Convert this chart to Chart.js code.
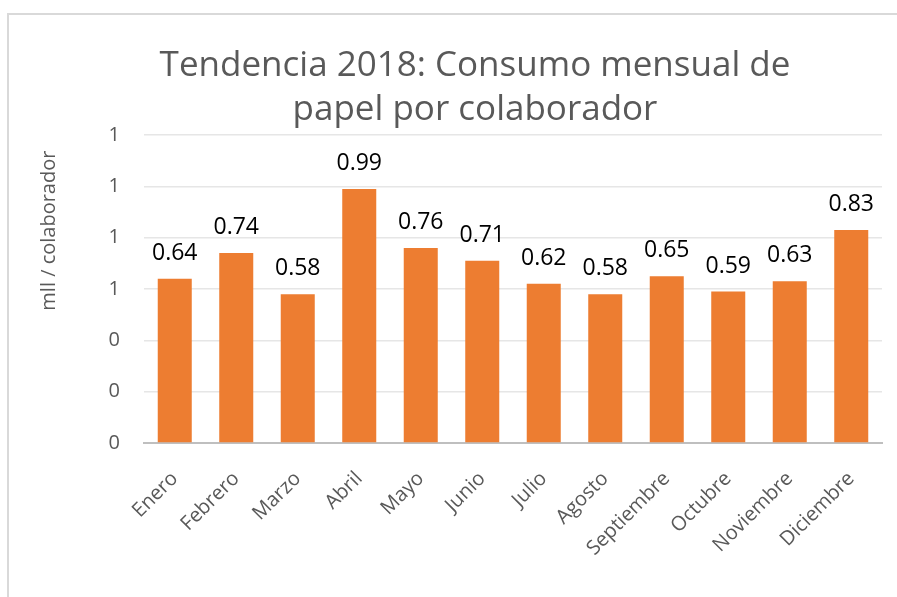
<!DOCTYPE html>
<html>
<head>
<meta charset="utf-8">
<script src="https://cdn.jsdelivr.net/npm/chart.js@4.4.0/dist/chart.umd.min.js"></script>
<style>
  body { margin: 0; background: #fff; }
  #wrap { position: relative; width: 897px; height: 597px; overflow: hidden; }
  #frame { position: absolute; left: 7px; top: 13px; width: 900px; height: 600px; border: 2px solid #d9d9d9; }
  #Plot { position: absolute; left: 0; top: 0; }
</style>
</head>
<body>
<div id="wrap">
  <div id="frame"></div>
  <canvas id="Plot" width="897" height="597"></canvas>
</div>
<script>
var meses = ['Enero','Febrero','Marzo','Abril','Mayo','Junio','Julio','Agosto','Septiembre','Octubre','Noviembre','Diciembre'];
var consumo = [0.64, 0.74, 0.58, 0.99, 0.76, 0.71, 0.62, 0.58, 0.65, 0.59, 0.63, 0.83];
var titulo = ['Tendencia 2018: Consumo mensual de', 'papel por colaborador'];
var ejeY = 'mll / colaborador';

var fuente = '"Open Sans", "Noto Sans", sans-serif';
var gris = '#595959';

/* etiquetas encima de las barras */
var etiquetas = {
  id: 'etiquetas',
  afterDatasetsDraw: function(chart) {
    var c = chart.ctx;
    var meta = chart.getDatasetMeta(0);
    c.save();
    c.font = '23px ' + fuente;
    c.fillStyle = '#000';
    c.textAlign = 'center';
    c.textBaseline = 'alphabetic';
    meta.data.forEach(function(bar, i) {
      c.fillText(consumo[i].toFixed(2), bar.x, bar.y - 19);
    });
    c.restore();
  }
};

var ctx = document.getElementById('Plot').getContext('2d');
var myChart = new Chart(ctx, {
  type: 'bar',
  data: {
    labels: meses,
    datasets: [{
      data: consumo,
      backgroundColor: '#ED7D31',
      categoryPercentage: 1,
      barPercentage: 0.553
    }]
  },
  plugins: [etiquetas],
  options: {
    responsive: false,
    animation: false,
    layout: { padding: { left: 68, right: 15, top: 0, bottom: 0 } },
    plugins: {
      legend: { display: false },
      tooltip: { enabled: false },
      title: {
        display: true,
        text: titulo,
        color: gris,
        font: { family: fuente, size: 35, weight: 'normal', lineHeight: 1.257 },
        padding: { top: 44, bottom: 3 }
      }
    },
    scales: {
      x: {
        grid: { display: false },
        border: { display: true, color: '#bfbfbf', width: 2 },
        ticks: {
          color: gris,
          font: { family: fuente, size: 20 },
          maxRotation: 45,
          minRotation: 45,
          padding: 16
        },
        afterFit: function(scale) { scale.height = 154; }
      },
      y: {
        min: 0,
        max: 1.2,
        border: { display: false },
        grid: {
          color: function(c) { return c.tick.value === 0 ? 'rgba(0,0,0,0)' : '#e6e6e6'; },
          lineWidth: 1.5,
          drawTicks: false
        },
        ticks: {
          stepSize: 0.2,
          color: gris,
          padding: 24,
          font: { family: fuente, size: 20 },
          callback: function(v) { return Math.round(v); }
        },
        title: {
          display: true,
          text: ejeY + '\u00a0\u00a0\u00a0',
          align: 'end',
          color: gris,
          font: { family: fuente, size: 20 },
          padding: { top: -31, bottom: 0 }
        },
        afterFit: function(scale) { scale.width = 76; }
      }
    }
  }
});
</script>
</body>
</html>
